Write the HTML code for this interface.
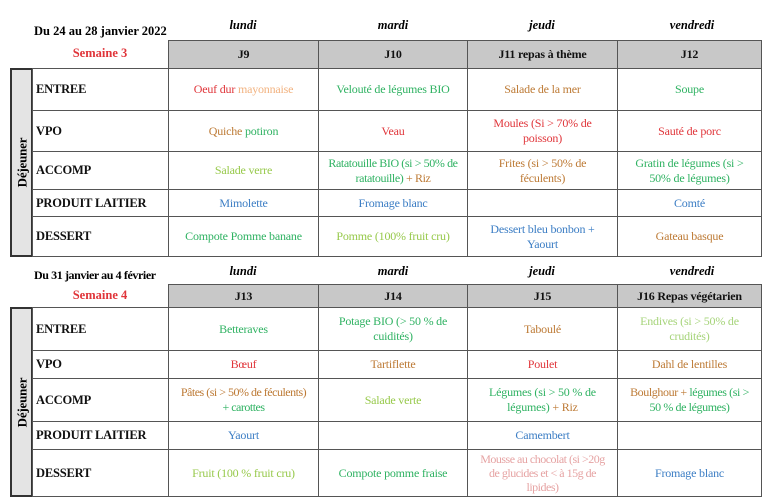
<!DOCTYPE html>
<html><head><meta charset="utf-8"><style>
body{margin:0;width:768px;height:501px;background:#fff;font-family:"Liberation Serif",serif;font-size:12px;overflow:hidden;position:relative}
.c{position:absolute;box-sizing:border-box;border:1.5px solid #555;display:flex;align-items:center;justify-content:center;text-align:center;line-height:15px;white-space:nowrap;letter-spacing:-0.2px}
.t{position:absolute;white-space:nowrap;text-align:center}
.lab{justify-content:flex-start;padding-left:3px;font-weight:bold;color:#111;font-size:12.5px}
.hd{background:#c8c8c8;font-weight:bold;color:#111}
.dj{background:#e4e4e4;border:2px solid #333}
.dj div{transform:rotate(-90deg);font-weight:bold;font-size:13px}
.day{font-style:italic;font-weight:bold;width:150px;font-size:12.5px}
.r{color:#e0353a}.g{color:#2fb262}.o{color:#bd7a35}.lg{color:#97c94b}.bl{color:#3b7dc4}.p{color:#f2b27f}.pk{color:#e6a3a3}.lgr{color:#a6d47a}
</style></head><body>

<div class="t" style="left:34px;top:24px;font-weight:bold;font-size:12.5px">Du 24 au 28 janvier 2022</div>
<div class="t r" style="left:32px;width:136px;top:46px;font-weight:bold;font-size:12.5px">Semaine 3</div>
<div class="t day" style="left:168px;top:18px">lundi</div>
<div class="t day" style="left:318px;top:18px">mardi</div>
<div class="t day" style="left:467px;top:18px">jeudi</div>
<div class="t day" style="left:617px;top:18px">vendredi</div>

<div class="c hd" style="left:168px;top:40px;width:151px;height:29px">J9</div>
<div class="c hd" style="left:318px;top:40px;width:150px;height:29px">J10</div>
<div class="c hd" style="left:467px;top:40px;width:151px;height:29px">J11 repas à thème</div>
<div class="c hd" style="left:617px;top:40px;width:145px;height:29px">J12</div>

<div class="c dj" style="left:10px;top:68px;width:23px;height:189px"><div>Déjeuner</div></div>

<div class="c lab" style="left:32px;top:68px;width:137px;height:43px">ENTREE</div>
<div class="c" style="left:168px;top:68px;width:151px;height:43px"><span class="r">Oeuf dur</span>&nbsp;<span class="p">mayonnaise</span></div>
<div class="c g" style="left:318px;top:68px;width:150px;height:43px">Velouté de légumes BIO</div>
<div class="c o" style="left:467px;top:68px;width:151px;height:43px">Salade de la mer</div>
<div class="c g" style="left:617px;top:68px;width:145px;height:43px">Soupe</div>

<div class="c lab" style="left:32px;top:110px;width:137px;height:42px">VPO</div>
<div class="c" style="left:168px;top:110px;width:151px;height:42px"><span class="o">Quiche</span>&nbsp;<span class="g">potiron</span></div>
<div class="c r" style="left:318px;top:110px;width:150px;height:42px">Veau</div>
<div class="c r" style="left:467px;top:110px;width:151px;height:42px">Moules (Si &gt; 70% de<br>poisson)</div>
<div class="c r" style="left:617px;top:110px;width:145px;height:42px">Sauté de porc</div>

<div class="c lab" style="left:32px;top:151px;width:137px;height:39px">ACCOMP</div>
<div class="c lg" style="left:168px;top:151px;width:151px;height:39px">Salade verre</div>
<div class="c g" style="left:318px;top:151px;width:150px;height:39px;letter-spacing:-0.4px"><span>Ratatouille BIO (si &gt; 50% de<br>ratatouille) <span class="o">+ Riz</span></span></div>
<div class="c o" style="left:467px;top:151px;width:151px;height:39px">Frites (si &gt; 50% de<br>féculents)</div>
<div class="c g" style="left:617px;top:151px;width:145px;height:39px">Gratin de légumes (si &gt;<br>50% de légumes)</div>

<div class="c lab" style="left:32px;top:189px;width:137px;height:28px">PRODUIT LAITIER</div>
<div class="c bl" style="left:168px;top:189px;width:151px;height:28px">Mimolette</div>
<div class="c bl" style="left:318px;top:189px;width:150px;height:28px">Fromage blanc</div>
<div class="c" style="left:467px;top:189px;width:151px;height:28px"></div>
<div class="c bl" style="left:617px;top:189px;width:145px;height:28px">Comté</div>

<div class="c lab" style="left:32px;top:216px;width:137px;height:41px">DESSERT</div>
<div class="c g" style="left:168px;top:216px;width:151px;height:41px">Compote Pomme banane</div>
<div class="c lg" style="left:318px;top:216px;width:150px;height:41px">Pomme (100% fruit cru)</div>
<div class="c bl" style="left:467px;top:216px;width:151px;height:41px">Dessert bleu bonbon +<br>Yaourt</div>
<div class="c o" style="left:617px;top:216px;width:145px;height:41px">Gateau basque</div>

<div class="t" style="left:34px;top:268px;width:134px;overflow:hidden;font-weight:bold;font-size:12px;letter-spacing:-0.4px;text-align:left">Du 31 janvier au 4 février</div>
<div class="t r" style="left:32px;width:136px;top:288px;font-weight:bold;font-size:12.5px">Semaine 4</div>
<div class="t day" style="left:168px;top:264px">lundi</div>
<div class="t day" style="left:318px;top:264px">mardi</div>
<div class="t day" style="left:467px;top:264px">jeudi</div>
<div class="t day" style="left:617px;top:264px">vendredi</div>

<div class="c hd" style="left:168px;top:284px;width:151px;height:24px">J13</div>
<div class="c hd" style="left:318px;top:284px;width:150px;height:24px">J14</div>
<div class="c hd" style="left:467px;top:284px;width:151px;height:24px">J15</div>
<div class="c hd" style="left:617px;top:284px;width:145px;height:24px">J16 Repas végétarien</div>

<div class="c dj" style="left:10px;top:307px;width:23px;height:190px"><div>Déjeuner</div></div>

<div class="c lab" style="left:32px;top:307px;width:137px;height:44px">ENTREE</div>
<div class="c g" style="left:168px;top:307px;width:151px;height:44px">Betteraves</div>
<div class="c g" style="left:318px;top:307px;width:150px;height:44px">Potage BIO (&gt; 50 % de<br>cuidités)</div>
<div class="c o" style="left:467px;top:307px;width:151px;height:44px">Taboulé</div>
<div class="c lgr" style="left:617px;top:307px;width:145px;height:44px">Endives (si &gt; 50% de<br>crudités)</div>

<div class="c lab" style="left:32px;top:350px;width:137px;height:29px">VPO</div>
<div class="c r" style="left:168px;top:350px;width:151px;height:29px">Bœuf</div>
<div class="c o" style="left:318px;top:350px;width:150px;height:29px">Tartiflette</div>
<div class="c r" style="left:467px;top:350px;width:151px;height:29px">Poulet</div>
<div class="c o" style="left:617px;top:350px;width:145px;height:29px">Dahl de lentilles</div>

<div class="c lab" style="left:32px;top:378px;width:137px;height:44px">ACCOMP</div>
<div class="c" style="left:168px;top:378px;width:151px;height:44px;letter-spacing:-0.5px"><span><span class="o">Pâtes (si &gt; 50% de féculents)</span><br><span class="g">+ carottes</span></span></div>
<div class="c lg" style="left:318px;top:378px;width:150px;height:44px">Salade verte</div>
<div class="c g" style="left:467px;top:378px;width:151px;height:44px"><span>Légumes (si &gt; 50 % de<br>légumes) <span class="o">+ Riz</span></span></div>
<div class="c" style="left:617px;top:378px;width:145px;height:44px;letter-spacing:-0.4px"><span><span class="o">Boulghour +</span> <span class="g">légumes (si &gt;</span><br><span class="g">50 % de légumes)</span></span></div>

<div class="c lab" style="left:32px;top:421px;width:137px;height:29px">PRODUIT LAITIER</div>
<div class="c bl" style="left:168px;top:421px;width:151px;height:29px">Yaourt</div>
<div class="c" style="left:318px;top:421px;width:150px;height:29px"></div>
<div class="c bl" style="left:467px;top:421px;width:151px;height:29px">Camembert</div>
<div class="c" style="left:617px;top:421px;width:145px;height:29px"></div>

<div class="c lab" style="left:32px;top:449px;width:137px;height:48px">DESSERT</div>
<div class="c lg" style="left:168px;top:449px;width:151px;height:48px">Fruit (100 % fruit cru)</div>
<div class="c g" style="left:318px;top:449px;width:150px;height:48px">Compote pomme fraise</div>
<div class="c pk" style="left:467px;top:449px;width:151px;height:48px;letter-spacing:-0.5px;line-height:14px">Mousse au chocolat (si &gt;20g<br>de glucides et &lt; à 15g de<br>lipides)</div>
<div class="c bl" style="left:617px;top:449px;width:145px;height:48px">Fromage blanc</div>
</body></html>
